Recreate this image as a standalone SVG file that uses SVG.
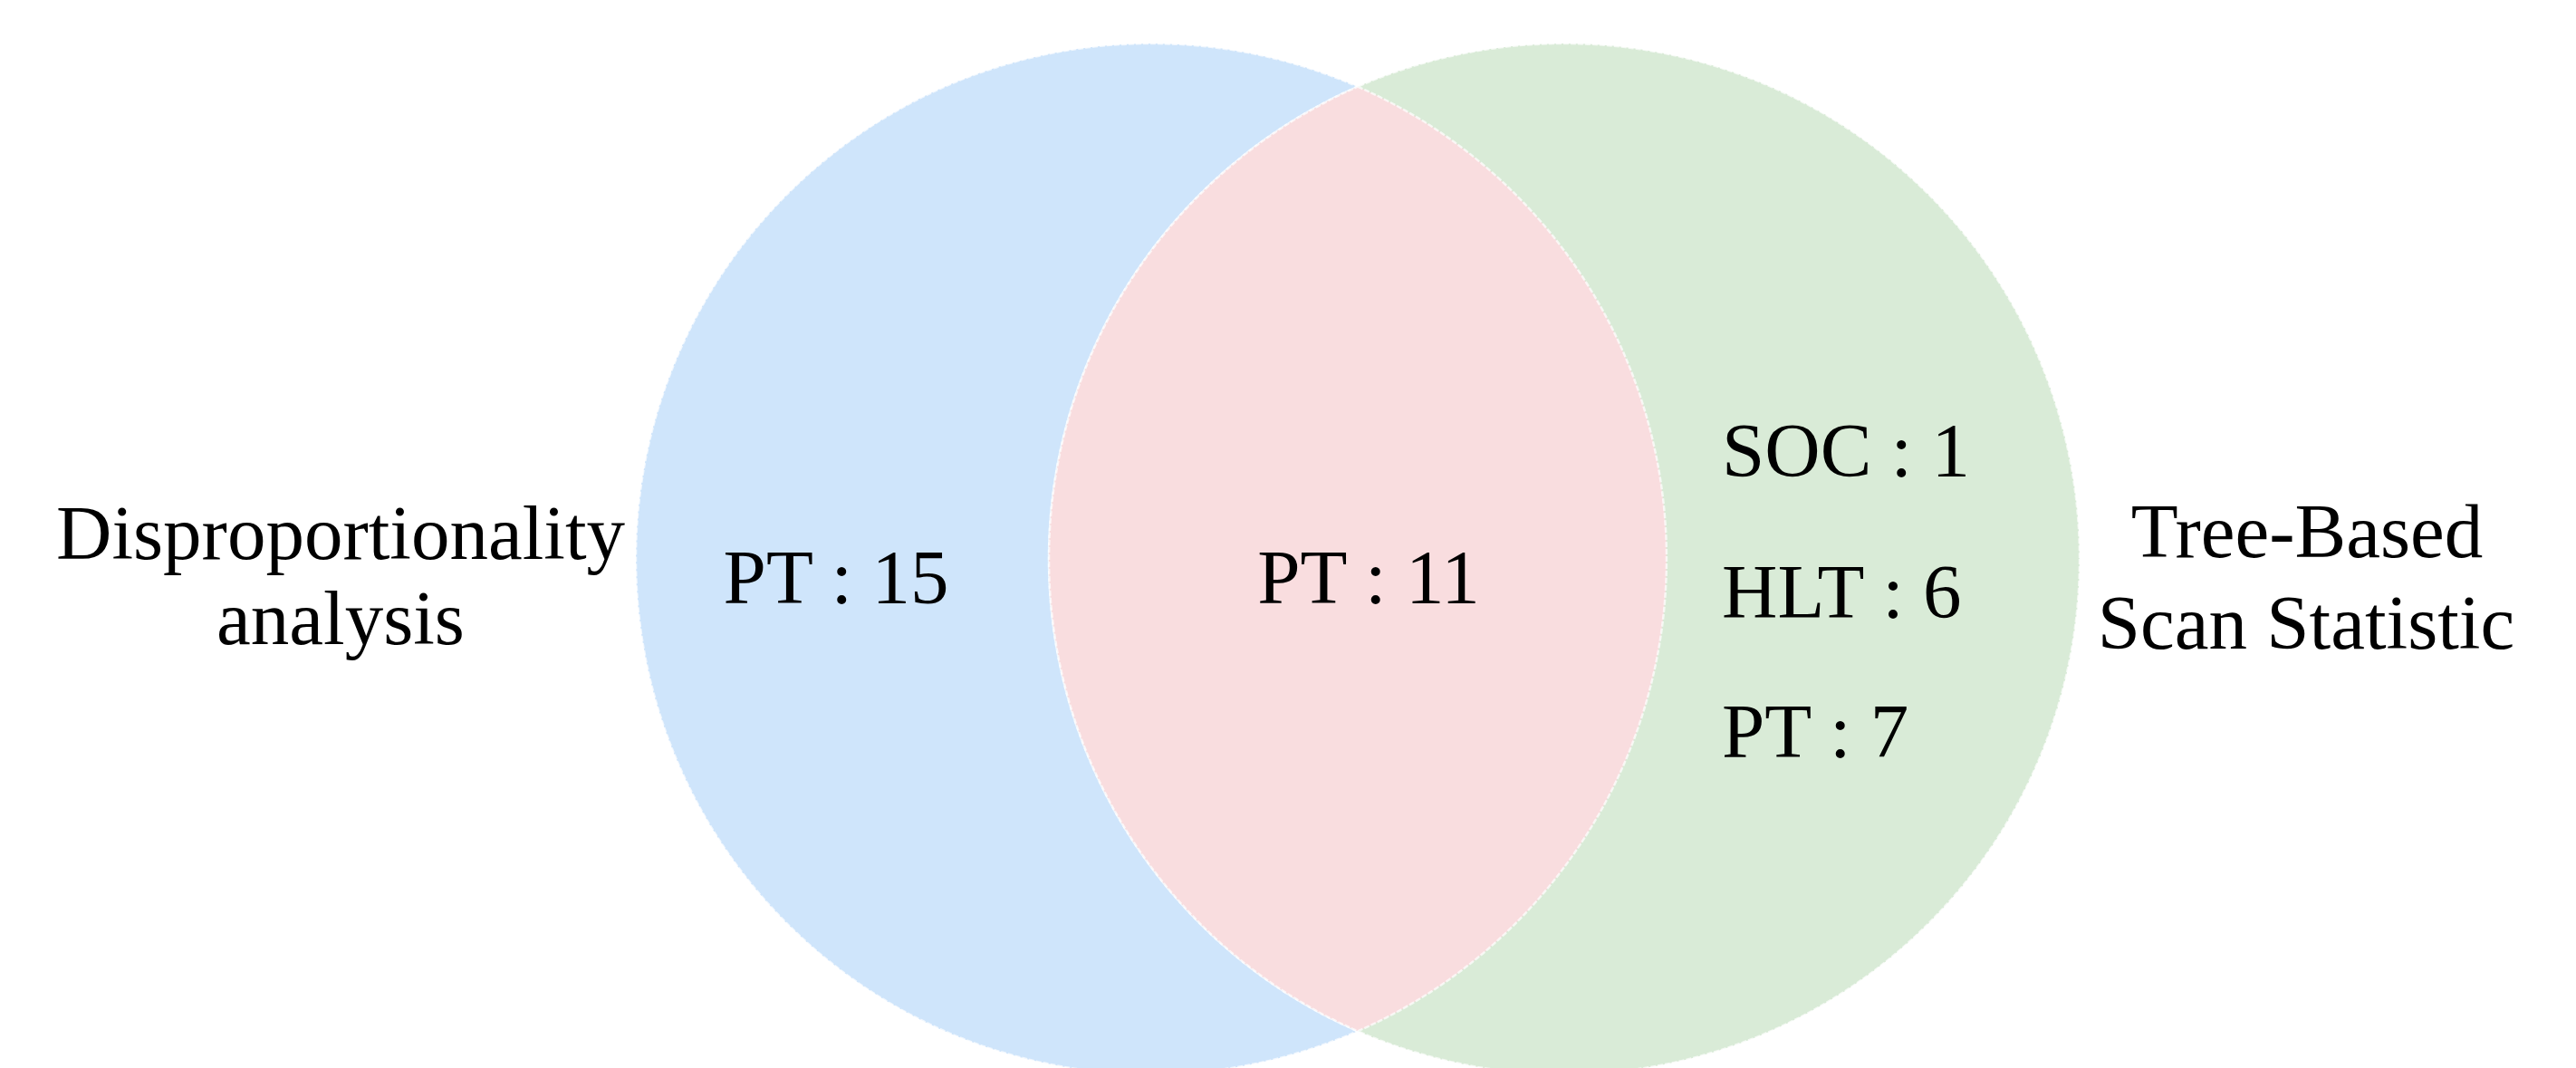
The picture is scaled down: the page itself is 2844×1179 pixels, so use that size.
<svg xmlns="http://www.w3.org/2000/svg" width="2844" height="1179" viewBox="0 0 2844 1179">
<style>
.t{font-family:"Liberation Serif","Times New Roman",serif;font-size:85px;fill:#000}
.c{text-anchor:middle}
.edge{stroke:#ffffff;stroke-opacity:0.7;stroke-width:2.5;stroke-dasharray:6 2}
</style>
<rect width="2844" height="1179" fill="#ffffff"/>
<g id="set-disproportionality">
<circle cx="1271" cy="617" r="569" fill="#CFE5FB" class="edge"/>
<text class="t c" x="376" y="617">Disproportionality</text>
<text class="t c" x="376" y="711">analysis</text>
<text class="t c" x="923" y="666">PT : 15</text>
</g>
<g id="set-treescan">
<circle cx="1727" cy="617" r="569" fill="#D9EBD7" class="edge"/>
<text class="t c" x="2547" y="615">Tree-Based</text>
<text class="t c" x="2546" y="716">Scan Statistic</text>
<text class="t" x="1901" y="526">SOC : 1</text>
<text class="t" x="1901" y="682">HLT : 6</text>
<text class="t" x="1901" y="836">PT : 7</text>
</g>
<g id="intersection">
<path d="M1499 95.7 A569 569 0 0 1 1499 1138.3 A569 569 0 0 1 1499 95.7 Z" fill="#F9DDDF" class="edge"/>
<text class="t c" x="1511" y="666">PT : 11</text>
</g>
<g id="connectors"/>
</svg>
